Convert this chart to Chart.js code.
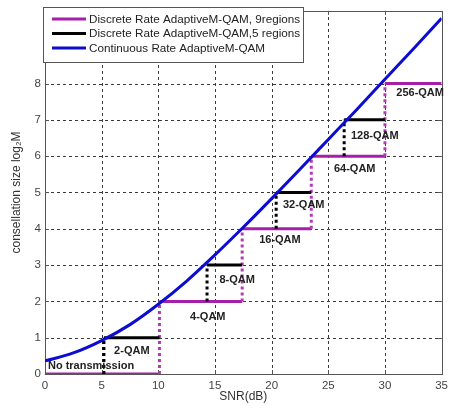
<!DOCTYPE html>
<html>
<head>
<meta charset="utf-8">
<script src="https://cdn.jsdelivr.net/npm/chart.js@4.4.0/dist/chart.umd.min.js"></script>
<style>
  html, body { margin: 0; padding: 0; background: #fff; }
  #wrap { width: 453px; height: 409px; }
</style>
</head>
<body>
<div id="wrap"><canvas id="c" width="453" height="409"></canvas></div>
<script>
// SNR samples (dB) and continuous-rate spectral efficiency (bits/symbol)
const snrDb = [0, 2.5, 5, 7.5, 10, 12.5, 15, 17.5, 20, 22.5, 25, 27.5, 30, 32.5, 35];
const continuousBits = [0.36, 0.58, 0.92, 1.36, 1.92, 2.56, 3.28, 4.04, 4.83, 5.64, 6.46, 7.28, 8.12, 8.95, 9.8];

// 9-region scheme: switching thresholds (dB) and bits/symbol inside each region
const thresholds9 = [0, 10.1, 17.4, 23.5, 30.0, 35];
const bits9 = [0, 2, 4, 6, 8];

// 5-region scheme (odd constellations): step start, step end (dB) and bits/symbol
const oddStart = [5.2, 14.3, 20.4, 26.4];
const oddEnd = [10.1, 17.4, 23.5, 30.0];
const oddBits = [1, 3, 5, 7];

// axis ticks
const xTicks = [0, 5, 10, 15, 20, 25, 30, 35];
const yTicks = [0, 1, 2, 3, 4, 5, 6, 7, 8];

// constellation annotations (left edge x in dB, centre y in bits)
const regionLabels = ['No transmission', '2-QAM', '4-QAM', '8-QAM', '16-QAM', '32-QAM', '64-QAM', '128-QAM', '256-QAM'];
const regionLabelX = [0.26, 6.1, 12.8, 15.4, 18.9, 21.0, 25.5, 27.0, 31.0];
const regionLabelY = [0.23, 0.63, 1.56, 2.6, 3.68, 4.66, 5.65, 6.56, 7.73];

const FONT = "'Liberation Sans', Arial, sans-serif";
const PURPLE = '#a51fa8';
const PURPLE_DOT = '#b03cb3';
const BLUE = '#0c0cd2';

// staircase for the 9-region curve: solid treads, dotted risers
const stairs9 = [{ x: thresholds9[0], y: bits9[0] }];
for (let i = 0; i < bits9.length; i++) {
  stairs9.push({ x: thresholds9[i + 1], y: bits9[i] });
  if (i + 1 < bits9.length) stairs9.push({ x: thresholds9[i + 1], y: bits9[i + 1] });
}

// odd steps, separated by gaps
const stairs5 = [];
for (let k = 0; k < oddBits.length; k++) {
  stairs5.push({ x: oddStart[k], y: oddBits[k] - 1 });
  stairs5.push({ x: oddStart[k], y: oddBits[k] });
  stairs5.push({ x: oddEnd[k], y: oddBits[k] });
  stairs5.push({ x: oddEnd[k], y: null });
}

const continuous = snrDb.map((x, i) => ({ x, y: continuousBits[i] }));

const isRiser = ctx => ctx.p0.parsed.x === ctx.p1.parsed.x;

const frame = {
  id: 'frame',
  beforeDatasetsDraw(chart) {
    const { ctx, chartArea: a, scales: { x, y } } = chart;
    ctx.save();
    ctx.strokeStyle = '#3a3a3a';
    ctx.lineWidth = 1;
    ctx.setLineDash([3, 3]);
    xTicks.forEach(v => {
      if (v <= x.min || v >= x.max) return;
      const px = Math.round(x.getPixelForValue(v)) + 0.5;
      ctx.beginPath(); ctx.moveTo(px, a.bottom); ctx.lineTo(px, a.top); ctx.stroke();
    });
    yTicks.forEach(v => {
      if (v <= y.min || v >= y.max) return;
      const py = Math.round(y.getPixelForValue(v)) + 0.5;
      ctx.beginPath(); ctx.moveTo(a.left, py); ctx.lineTo(a.right, py); ctx.stroke();
    });
    ctx.setLineDash([]);
    ctx.strokeStyle = '#555';
    ctx.strokeRect(Math.round(a.left) + 0.5, Math.round(a.top) + 0.5,
                   Math.round(a.right - a.left), Math.round(a.bottom - a.top));
    // inward tick marks
    xTicks.forEach(v => {
      const px = Math.round(x.getPixelForValue(v)) + 0.5;
      ctx.beginPath();
      ctx.moveTo(px, a.bottom); ctx.lineTo(px, a.bottom - 4);
      ctx.moveTo(px, a.top); ctx.lineTo(px, a.top + 4);
      ctx.stroke();
    });
    yTicks.forEach(v => {
      const py = Math.round(y.getPixelForValue(v)) + 0.5;
      ctx.beginPath();
      ctx.moveTo(a.left, py); ctx.lineTo(a.left + 4, py);
      ctx.moveTo(a.right, py); ctx.lineTo(a.right - 4, py);
      ctx.stroke();
    });
    ctx.restore();
  },
  afterDatasetsDraw(chart) {
    const { ctx, scales: { x, y } } = chart;
    ctx.save();
    // constellation names
    ctx.font = 'bold 11px ' + FONT;
    ctx.fillStyle = '#222';
    ctx.textBaseline = 'middle';
    ctx.textAlign = 'left';
    regionLabels.forEach((t, i) => {
      ctx.fillText(t, x.getPixelForValue(regionLabelX[i]), y.getPixelForValue(regionLabelY[i]));
    });
    // legend box in the upper-left corner
    const bx = 43.5, by = 7.5, bw = 260, bh = 55;
    ctx.fillStyle = '#fff';
    ctx.fillRect(bx, by, bw, bh);
    ctx.strokeStyle = '#555';
    ctx.lineWidth = 1;
    ctx.strokeRect(bx, by, bw, bh);
    ctx.font = '11.7px ' + FONT;
    const rows = [19, 33.5, 48];
    chart.data.datasets.forEach((ds, i) => {
      ctx.strokeStyle = ds.borderColor;
      ctx.lineWidth = 3;
      ctx.beginPath(); ctx.moveTo(52, rows[i]); ctx.lineTo(86, rows[i]); ctx.stroke();
      ctx.fillStyle = '#222';
      ctx.fillText(ds.label, 89, rows[i] + 0.5);
    });
    ctx.restore();
  }
};

new Chart(document.getElementById('c'), {
  type: 'scatter',
  data: {
    datasets: [
      {
        label: 'Discrete Rate AdaptiveM-QAM, 9regions',
        data: stairs9,
        showLine: true,
        borderColor: PURPLE,
        borderWidth: 3,
        pointRadius: 0,
        order: 2,
        segment: {
          borderDash: ctx => isRiser(ctx) ? [3, 3] : undefined,
          borderColor: ctx => isRiser(ctx) ? PURPLE_DOT : undefined
        }
      },
      {
        label: 'Discrete Rate AdaptiveM-QAM,5 regions',
        data: stairs5,
        showLine: true,
        spanGaps: false,
        borderColor: '#000',
        borderWidth: 3,
        pointRadius: 0,
        order: 1,
        segment: {
          borderDash: ctx => isRiser(ctx) ? [3, 3] : undefined
        }
      },
      {
        label: 'Continuous Rate AdaptiveM-QAM',
        data: continuous,
        showLine: true,
        borderColor: BLUE,
        borderWidth: 3,
        pointRadius: 0,
        cubicInterpolationMode: 'monotone',
        order: 0
      }
    ]
  },
  options: {
    responsive: false,
    animation: false,
    devicePixelRatio: 1,
    layout: { padding: { top: 5, right: 5, left: 0, bottom: 0 } },
    plugins: { legend: { display: false }, tooltip: { enabled: false } },
    scales: {
      x: {
        type: 'linear',
        min: 0, max: 35,
        afterBuildTicks: s => { s.ticks = xTicks.map(v => ({ value: v })); },
        afterFit: s => { s.height = 35; },
        grid: { display: false, drawTicks: false },
        border: { display: false },
        ticks: { padding: 5, color: '#444', font: { family: FONT, size: 11.5 }, maxRotation: 0, autoSkip: false },
        title: { display: true, text: 'SNR(dB)', color: '#333', font: { family: FONT, size: 12 }, padding: { top: 0, bottom: 5 } }
      },
      y: {
        type: 'linear',
        min: 0, max: 10,
        afterBuildTicks: s => { s.ticks = yTicks.map(v => ({ value: v })); },
        afterFit: s => { s.width = 45; },
        grid: { display: false, drawTicks: false },
        border: { display: false },
        ticks: { padding: 4, color: '#444', font: { family: FONT, size: 11.5 }, autoSkip: false },
        title: { display: true, text: 'consellation size log₂M', color: '#333', font: { family: FONT, size: 12 }, padding: { top: 9, bottom: 0 } }
      }
    }
  },
  plugins: [frame]
});
</script>
</body>
</html>
